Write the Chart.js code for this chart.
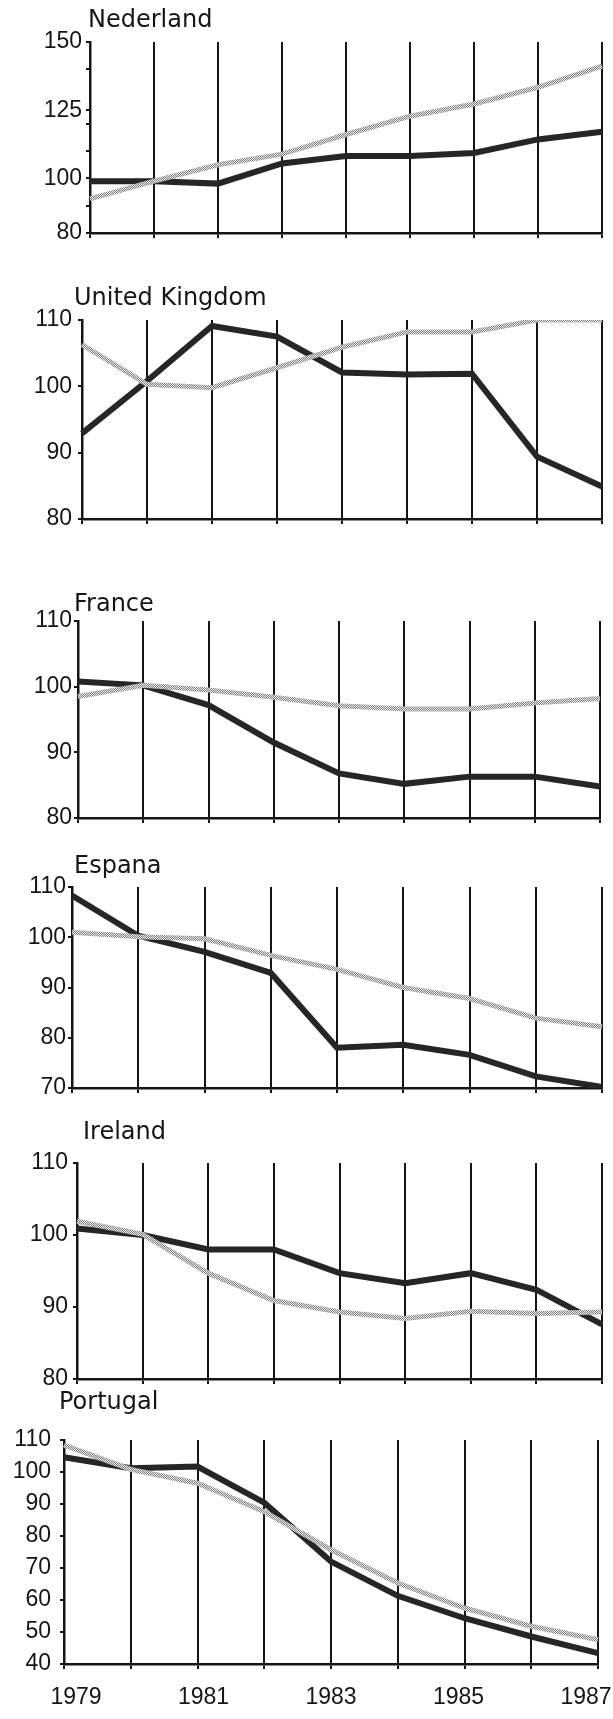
<!DOCTYPE html>
<html>
<head>
<meta charset="utf-8">
<script src="https://cdn.jsdelivr.net/npm/chart.js@4/dist/chart.umd.min.js"></script>
<style>
  html, body { margin: 0; padding: 0; background: #ffffff; }
  body { width: 613px; height: 1719px; position: relative; overflow: hidden; }
  canvas { position: absolute; left: 0; }
</style>
</head>
<body>
<script>
// ---------------- DATA ----------------
const years = ['1979', '1980', '1981', '1982', '1983', '1984', '1985', '1986', '1987'];
const yearTicks = [1979, 1981, 1983, 1985, 1987];

const nlSolid  = [99, 99, 98.1, 105.5, 108.2, 108.2, 109.3, 114.3, 117.1];
const nlDotted = [92.5, 99, 105, 108.9, 116.1, 122.8, 127.3, 133.4, 141.2];
const nlTicks  = [80, 100, 125, 150];
const nlMinorTicks = [90, 110, 120, 140];

const ukSolid  = [92.9, 100.8, 109.1, 107.5, 102.1, 101.8, 101.9, 89.4, 84.9];
const ukDotted = [106.3, 100.3, 99.8, 102.8, 105.9, 108.2, 108.2, 110, 110];
const ukTicks  = [80, 90, 100, 110];

const frSolid  = [100.8, 100.2, 97.2, 91.5, 86.8, 85.2, 86.3, 86.3, 84.8];
const frDotted = [98.5, 100.2, 99.5, 98.4, 97.1, 96.6, 96.6, 97.5, 98.2];
const frTicks  = [80, 90, 100, 110];

const esSolid  = [108.3, 100.3, 97.1, 92.9, 78, 78.6, 76.6, 72.3, 70.2];
const esDotted = [101, 100.1, 99.7, 96.4, 93.6, 90, 87.8, 83.9, 82.2];
const esTicks  = [70, 80, 90, 100, 110];

const ieSolid  = [100.9, 100, 98, 98, 94.7, 93.3, 94.7, 92.4, 87.6];
const ieDotted = [101.9, 100.1, 94.7, 90.9, 89.3, 88.4, 89.4, 89.1, 89.3];
const ieTicks  = [80, 90, 100, 110];

const ptSolid  = [104.6, 101.2, 101.7, 90.4, 72, 61.3, 54.3, 48.6, 43.4];
const ptDotted = [108.4, 100.8, 96.5, 87.6, 75.7, 65.3, 57.5, 51.8, 47.6];
const ptTicks  = [40, 50, 60, 70, 80, 90, 100, 110];

const titles = ['Nederland', 'United Kingdom', 'France', 'Espana', 'Ireland', 'Portugal'];

// ---------------- LAYOUT (positions / sizes only) ----------------
const layout = [
  { canvasTop: 0,    canvasH: 245, axisX: 90, rightX: 602, topY: 42,   bottomY: 233,  titleX: 88, titleY: 27,   tickPad: 4 },
  { canvasTop: 265,  canvasH: 265, axisX: 82, rightX: 602, topY: 320,  bottomY: 519,  titleX: 74, titleY: 305,  tickPad: 6 },
  { canvasTop: 575,  canvasH: 255, axisX: 78, rightX: 600, topY: 621,  bottomY: 818,  titleX: 74, titleY: 611,  tickPad: 2 },
  { canvasTop: 835,  canvasH: 265, axisX: 72, rightX: 602, topY: 887,  bottomY: 1088, titleX: 74, titleY: 873,  tickPad: 2 },
  { canvasTop: 1100, canvasH: 290, axisX: 77, rightX: 602, topY: 1163, bottomY: 1379, titleX: 83, titleY: 1139, tickPad: 5 },
  { canvasTop: 1390, canvasH: 329, axisX: 64, rightX: 598, topY: 1440, bottomY: 1664, titleX: 59, titleY: 1409, tickPad: 9 }
];

const series = [
  { solid: nlSolid, dotted: nlDotted, ticks: nlTicks, minor: nlMinorTicks },
  { solid: ukSolid, dotted: ukDotted, ticks: ukTicks, minor: [] },
  { solid: frSolid, dotted: frDotted, ticks: frTicks, minor: [] },
  { solid: esSolid, dotted: esDotted, ticks: esTicks, minor: [] },
  { solid: ieSolid, dotted: ieDotted, ticks: ieTicks, minor: [] },
  { solid: ptSolid, dotted: ptDotted, ticks: ptTicks, minor: [] }
];

// ---------------- STYLE ----------------
const numFont = { family: '"Liberation Sans", Arial, sans-serif', size: 23, weight: 'normal' };
const titleFont = '24px "DejaVu Sans", sans-serif';
const inkColor = '#151515';
const X_LABEL_H = 50;

function makeHatch() {
  const p = document.createElement('canvas');
  p.width = 2; p.height = 2;
  const g = p.getContext('2d');
  g.fillStyle = '#ececec'; g.fillRect(0, 0, 2, 2);
  g.fillStyle = '#808080'; g.fillRect(0, 0, 1, 1); g.fillRect(1, 1, 1, 1);
  return g.createPattern(p, 'repeat');
}
const hatch = makeHatch();

const panelTitle = {
  id: 'panelTitle',
  afterDraw(chart, args, opts) {
    const ctx = chart.ctx;
    ctx.save();
    ctx.font = opts.font;
    ctx.fillStyle = opts.color;
    ctx.textAlign = 'left';
    ctx.textBaseline = 'alphabetic';
    ctx.fillText(opts.text, opts.x, opts.y);
    ctx.restore();
  }
};

function zeroPad(s) { s.paddingLeft = 0; s.paddingRight = 0; s.paddingTop = 0; s.paddingBottom = 0; }

series.forEach((s, i) => {
  const L = layout[i];
  const isLast = i === series.length - 1;
  const yBoxW = L.axisX;   // y-axis box spans from canvas left edge to the axis line
  const c = document.createElement('canvas');
  c.width = 613; c.height = L.canvasH;
  c.style.top = L.canvasTop + 'px';
  document.body.appendChild(c);

  const minV = Math.min(...s.ticks), maxV = Math.max(...s.ticks);
  const allTicks = s.ticks.concat(s.minor).sort((a, b) => a - b);
  const extraBottom = isLast ? X_LABEL_H : 0;

  const scales = {
    x: {
      type: 'category',
      offset: false,
      grid: { display: true, drawOnChartArea: true, drawTicks: true, tickLength: 5, color: inkColor, lineWidth: 2, offset: false },
      border: { display: true, color: inkColor, width: 2.5 },
      ticks: { display: false, autoSkip: false },
      afterFit: sc => { sc.height = 0; zeroPad(sc); }
    },
    y: {
      type: 'linear',
      min: minV, max: maxV,
      afterBuildTicks: sc => { sc.ticks = allTicks.map(v => ({ value: v })); },
      grid: { display: true, drawOnChartArea: false, drawTicks: true, tickLength: 4, color: inkColor, lineWidth: 2 },
      border: { display: true, color: inkColor, width: 2.5 },
      ticks: {
        autoSkip: false,
        padding: L.tickPad,
        font: numFont,
        color: inkColor,
        callback: v => (s.ticks.includes(v) ? String(v) : '')
      },
      afterFit: sc => { sc.width = yBoxW; zeroPad(sc); }
    }
  };

  if (isLast) {
    const inset = 12 * 8 / ((L.rightX - L.axisX) - 24);
    scales.x2 = {
      type: 'linear',
      axis: 'x',
      position: 'bottom',
      min: yearTicks[0] - inset,
      max: yearTicks[yearTicks.length - 1] + inset,
      afterBuildTicks: sc => { sc.ticks = yearTicks.map(v => ({ value: v })); },
      grid: { display: false, drawTicks: false },
      border: { display: false },
      ticks: {
        autoSkip: false, maxRotation: 0, minRotation: 0,
        padding: 20, font: numFont, color: inkColor,
        callback: v => String(v)
      },
      afterFit: sc => { sc.height = X_LABEL_H; zeroPad(sc); }
    };
  }

  new Chart(c, {
    type: 'line',
    data: {
      labels: years,
      datasets: [
        {
          label: 'dotted',
          data: s.dotted,
          xAxisID: 'x', yAxisID: 'y',
          borderColor: hatch,
          borderWidth: 5,
          pointRadius: 0,
          tension: 0,
          fill: false,
          order: 0
        },
        {
          label: 'solid',
          data: s.solid,
          xAxisID: 'x', yAxisID: 'y',
          borderColor: '#262626',
          borderWidth: 6,
          borderJoinStyle: 'miter',
          pointRadius: 0,
          tension: 0,
          fill: false,
          order: 1
        }
      ]
    },
    options: {
      responsive: false,
      animation: false,
      devicePixelRatio: 1,
      layout: {
        padding: {
          top: L.topY - L.canvasTop,
          bottom: L.canvasH - (L.bottomY - L.canvasTop) - extraBottom,
          left: 0,
          right: 613 - L.rightX
        }
      },
      scales,
      plugins: {
        legend: { display: false },
        tooltip: { enabled: false },
        title: { display: false },
        panelTitle: { text: titles[i], x: L.titleX, y: L.titleY - L.canvasTop, font: titleFont, color: inkColor }
      }
    },
    plugins: [panelTitle]
  });
});
</script>
</body>
</html>
